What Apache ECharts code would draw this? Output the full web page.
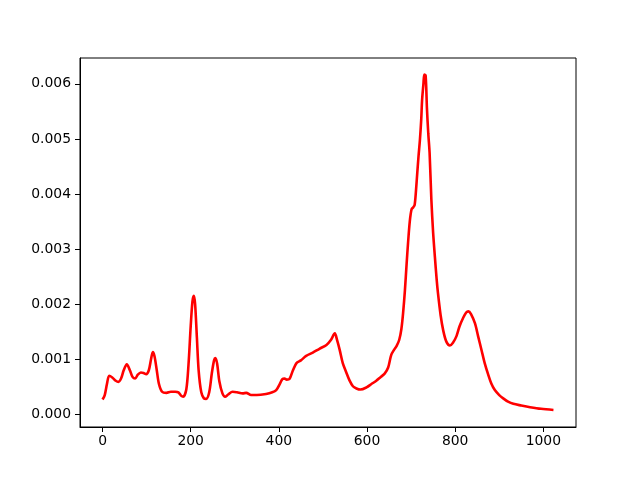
<!DOCTYPE html>
<html>
<head>
<meta charset="utf-8">
<script src="https://cdn.jsdelivr.net/npm/echarts@6/dist/echarts.min.js"></script>
<style>
  html, body { margin: 0; padding: 0; background: #fff; }
  #main { width: 640px; height: 480px; }
</style>
</head>
<body>
<div id="main"></div>
<script>
// sample positions
const xs = [0, 5, 10, 15, 22, 30, 36, 42, 48, 55, 62, 68, 74, 80, 87, 93, 99, 105, 110, 114,
  118, 123, 128, 135, 145, 155, 165, 172, 178, 183, 190, 195, 200, 204, 207, 210, 214, 218, 224, 230,
  235, 242, 248, 253, 256, 260, 265, 272, 278, 285, 295, 305, 318, 326, 337, 350, 371, 385, 394, 402,
  408, 413, 418, 424, 432, 440, 450, 462, 477, 492, 508, 518, 527, 532, 538, 545, 553, 560, 568, 576,
  585, 599, 610, 621, 630, 640, 648, 655, 662, 667, 673, 678, 682, 686, 690, 693, 697, 701, 705, 708,
  711, 714, 717, 720, 723, 725, 728, 730, 733, 736, 739, 742, 746, 750, 754, 758, 761, 767, 773, 780,
  788, 795, 803, 810, 818, 825, 830, 836, 845, 852, 860, 867, 875, 882, 890, 900, 909, 920, 932, 950,
  970, 995, 1023];
// values in units of 1e-3
const ys = [0.27, 0.35, 0.55, 0.70, 0.67, 0.61, 0.59, 0.65, 0.80, 0.91, 0.80, 0.68, 0.65, 0.72, 0.76, 0.75, 0.73, 0.80, 1.00, 1.13,
  1.05, 0.80, 0.55, 0.41, 0.39, 0.41, 0.41, 0.40, 0.34, 0.32, 0.45, 0.90, 1.60, 2.05, 2.15, 2.00, 1.40, 0.80, 0.40, 0.29,
  0.28, 0.40, 0.75, 0.98, 1.02, 0.92, 0.60, 0.38, 0.32, 0.36, 0.41, 0.40, 0.38, 0.39, 0.35, 0.35, 0.37, 0.40, 0.44, 0.55,
  0.64, 0.65, 0.63, 0.64, 0.80, 0.93, 0.98, 1.06, 1.12, 1.19, 1.26, 1.35, 1.47, 1.35, 1.17, 0.93, 0.76, 0.62, 0.51, 0.47,
  0.45, 0.49, 0.55, 0.61, 0.67, 0.74, 0.85, 1.08, 1.18, 1.24, 1.35, 1.55, 1.85, 2.25, 2.75, 3.10, 3.50, 3.72, 3.76, 3.80,
  4.05, 4.38, 4.70, 4.98, 5.35, 5.71, 6.00, 6.17, 6.15, 5.55, 5.10, 4.75, 3.90, 3.30, 2.86, 2.45, 2.20, 1.80, 1.52, 1.32,
  1.25, 1.30, 1.42, 1.60, 1.75, 1.85, 1.87, 1.82, 1.65, 1.42, 1.16, 0.93, 0.72, 0.56, 0.44, 0.35, 0.29, 0.23, 0.19, 0.16,
  0.13, 0.10, 0.08];
const xTicks = [0, 200, 400, 600, 800, 1000];
const yTicks = [0, 0.001, 0.002, 0.003, 0.004, 0.005, 0.006];

const data = xs.map((x, i) => [x, ys[i] / 1000]);
const font = 'DejaVu Sans';

const chart = echarts.init(document.getElementById('main'));
chart.setOption({
  animation: false,
  grid: {
    left: 80, right: 64, top: 58, bottom: 53,
    show: true, borderColor: '#000', borderWidth: 1, backgroundColor: '#fff'
  },
  xAxis: {
    type: 'value',
    min: -51.15, max: 1074.15,
    splitLine: { show: false },
    axisLine: { show: true, onZero: false, lineStyle: { color: '#000', width: 1 } },
    axisTick: { show: true, inside: false, length: 5, lineStyle: { color: '#000' }, customValues: xTicks },
    axisLabel: {
      customValues: xTicks, color: '#000', fontFamily: font, fontSize: 13.9, margin: 7,
      formatter: v => String(v)
    }
  },
  yAxis: {
    type: 'value',
    min: -0.00023, max: 0.00647,
    splitLine: { show: false },
    axisLine: { show: true, onZero: false, lineStyle: { color: '#000', width: 1 } },
    axisTick: { show: true, inside: false, length: 5, lineStyle: { color: '#000' }, customValues: yTicks },
    axisLabel: {
      customValues: yTicks, color: '#000', fontFamily: font, fontSize: 13.9, margin: 9,
      formatter: v => v.toFixed(3)
    }
  },
  series: [{
    type: 'line',
    data: data,
    smooth: 0.3,
    showSymbol: false,
    lineStyle: { color: '#ff0000', width: 2.6 }
  }]
});
</script>
</body>
</html>
